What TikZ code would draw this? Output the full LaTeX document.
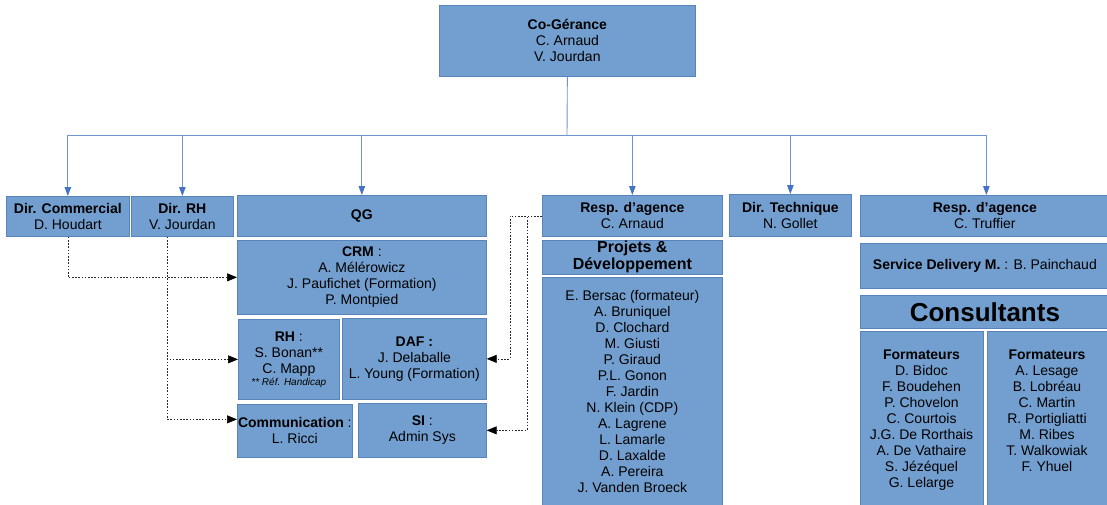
\documentclass[tikz,border=0pt]{standalone}
\usepackage{fontspec}
\setmainfont{Liberation Sans}
\usetikzlibrary{arrows.meta,calc}
\definecolor{boxfill}{RGB}{114,159,207}
\definecolor{boxline}{RGB}{88,132,190}
\definecolor{connblue}{RGB}{110,148,214}
\definecolor{tipblue}{RGB}{68,114,196}
\definecolor{dotcol}{RGB}{40,40,40}
\begin{document}
\begin{tikzpicture}[x=1pt,y=-1pt,
  box/.style={draw=boxline,fill=boxfill,line width=0.7pt,anchor=north west,inner sep=0pt,
     align=center,font=\fontsize{14}{16}\selectfont,text=black},
  label/.style={inner sep=0pt,align=center,font=\fontsize{14}{16}\selectfont,text=black},
  conn/.style={draw=connblue,line width=0.9pt,-{Triangle[width=6.5pt,length=9pt,color=tipblue]}},
  plain/.style={draw=connblue,line width=0.9pt},
  dotline/.style={draw=dotcol,line width=0.7pt,dash pattern=on 1.6pt off 1.6pt,
     -{Triangle[width=8pt,length=10pt,color=black]}}]
\useasboundingbox (0,0) rectangle (1107,504);

\node[box,minimum width=256pt,minimum height=71pt] (cog) at (439,5)
  {\textbf{Co-Gérance}\\C. Arnaud\\V. Jourdan};

\node[box,minimum width=123pt,minimum height=40pt] (dc) at (6,196)
  {\textbf{Dir. Commercial}\\D. Houdart};
\node[box,minimum width=102pt,minimum height=40pt] (drh) at (131,196)
  {\textbf{Dir. RH}\\V. Jourdan};
\node[box,minimum width=249pt,minimum height=41pt] (qg) at (237,195)
  {\textbf{QG}};
\node[box,minimum width=249pt,minimum height=74pt] (crm) at (237,240)
  {\textbf{CRM} :\\A. Mélérowicz\\J. Paufichet (Formation)\\P. Montpied};
\node[box,minimum width=101pt,minimum height=80pt] (rh) at (238,319)
  {\textbf{RH} :\\S. Bonan**\\C. Mapp\\[-4pt]{\fontsize{10}{11}\selectfont\itshape ** Réf. Handicap}};
\node[box,minimum width=144pt,minimum height=81pt] (daf) at (342,318)
  {\textbf{DAF :}\\J. Delaballe\\L. Young (Formation)};
\node[box,minimum width=115pt,minimum height=53pt] (com) at (237,404)
  {\textbf{Communication} :\\L. Ricci};
\node[box,minimum width=128pt,minimum height=54pt] (si) at (358,403)
  {\textbf{SI} :\\Admin Sys};

\node[box,minimum width=180pt,minimum height=41pt] (ra) at (542,195)
  {\textbf{Resp. d’agence}\\C. Arnaud};
\node[box,minimum width=180pt,minimum height=34pt,font=\bfseries\fontsize{16}{17}\selectfont] (pd) at (542,240)
  {Projets \&\\Développement};
\node[box,minimum width=180pt,minimum height=229pt] (pdl) at (542,277)
  {E. Bersac (formateur)\\A. Bruniquel\\D. Clochard\\M. Giusti\\P. Giraud\\P.L. Gonon\\F. Jardin\\N. Klein (CDP)\\A. Lagrene\\L. Lamarle\\D. Laxalde\\A. Pereira\\J. Vanden Broeck};

\node[box,minimum width=122pt,minimum height=42pt] (dt) at (729,194)
  {\textbf{Dir. Technique}\\N. Gollet};
\node[box,minimum width=249pt,minimum height=41pt] (rt) at (860,195)
  {\textbf{Resp. d’agence}\\C. Truffier};
\node[box,minimum width=249pt,minimum height=45pt] (sdm) at (860,243)
  {\textbf{Service Delivery M.} : B. Painchaud};
\node[box,minimum width=249pt,minimum height=33pt,font=\bfseries\fontsize{26}{28}\selectfont] (cons) at (860,295)
  {Consultants};
\node[box,minimum width=123pt,minimum height=176pt] (f1) at (860,331) {};
\node[box,minimum width=122pt,minimum height=176pt] (f2) at (987,331) {};
\node[label,anchor=north] (f1t) at (921.5,350)
  {\textbf{Formateurs}\\D. Bidoc\\F. Boudehen\\P. Chovelon\\C. Courtois\\J.G. De Rorthais\\A. De Vathaire\\S. Jézéquel\\G. Lelarge};
\node[label,anchor=north] (f2t) at (1047,350)
  {\textbf{Formateurs}\\A. Lesage\\B. Lobréau\\C. Martin\\R. Portigliatti\\M. Ribes\\T. Walkowiak\\F. Yhuel};

% hierarchy connectors
\coordinate (bus) at (567,135);
\draw[plain] (cog.south) -- (bus);
\draw[conn] (bus) -| (dc.north);
\draw[conn] (bus) -| (drh.north);
\draw[conn] (bus) -| (qg.north);
\draw[conn] (bus) -| (ra.north);
\draw[conn] (bus) -| (dt.north);
\draw[conn] (bus) -| ([xshift=1.5pt]rt.north);

% dotted links
\draw[dotline] (dc.south) |- (crm.west);
\draw[dotline] ([xshift=-15pt]drh.south) |- (rh.west);
\draw[dotline] ([xshift=-15pt]drh.south) |- ([yshift=11.5pt]com.west);
\draw[dotline] (ra.west) -- ++(-32,0) |- (daf.east);
\draw[dotline] (ra.west) -- ++(-15,0) |- (si.east);
\end{tikzpicture}
\end{document}
